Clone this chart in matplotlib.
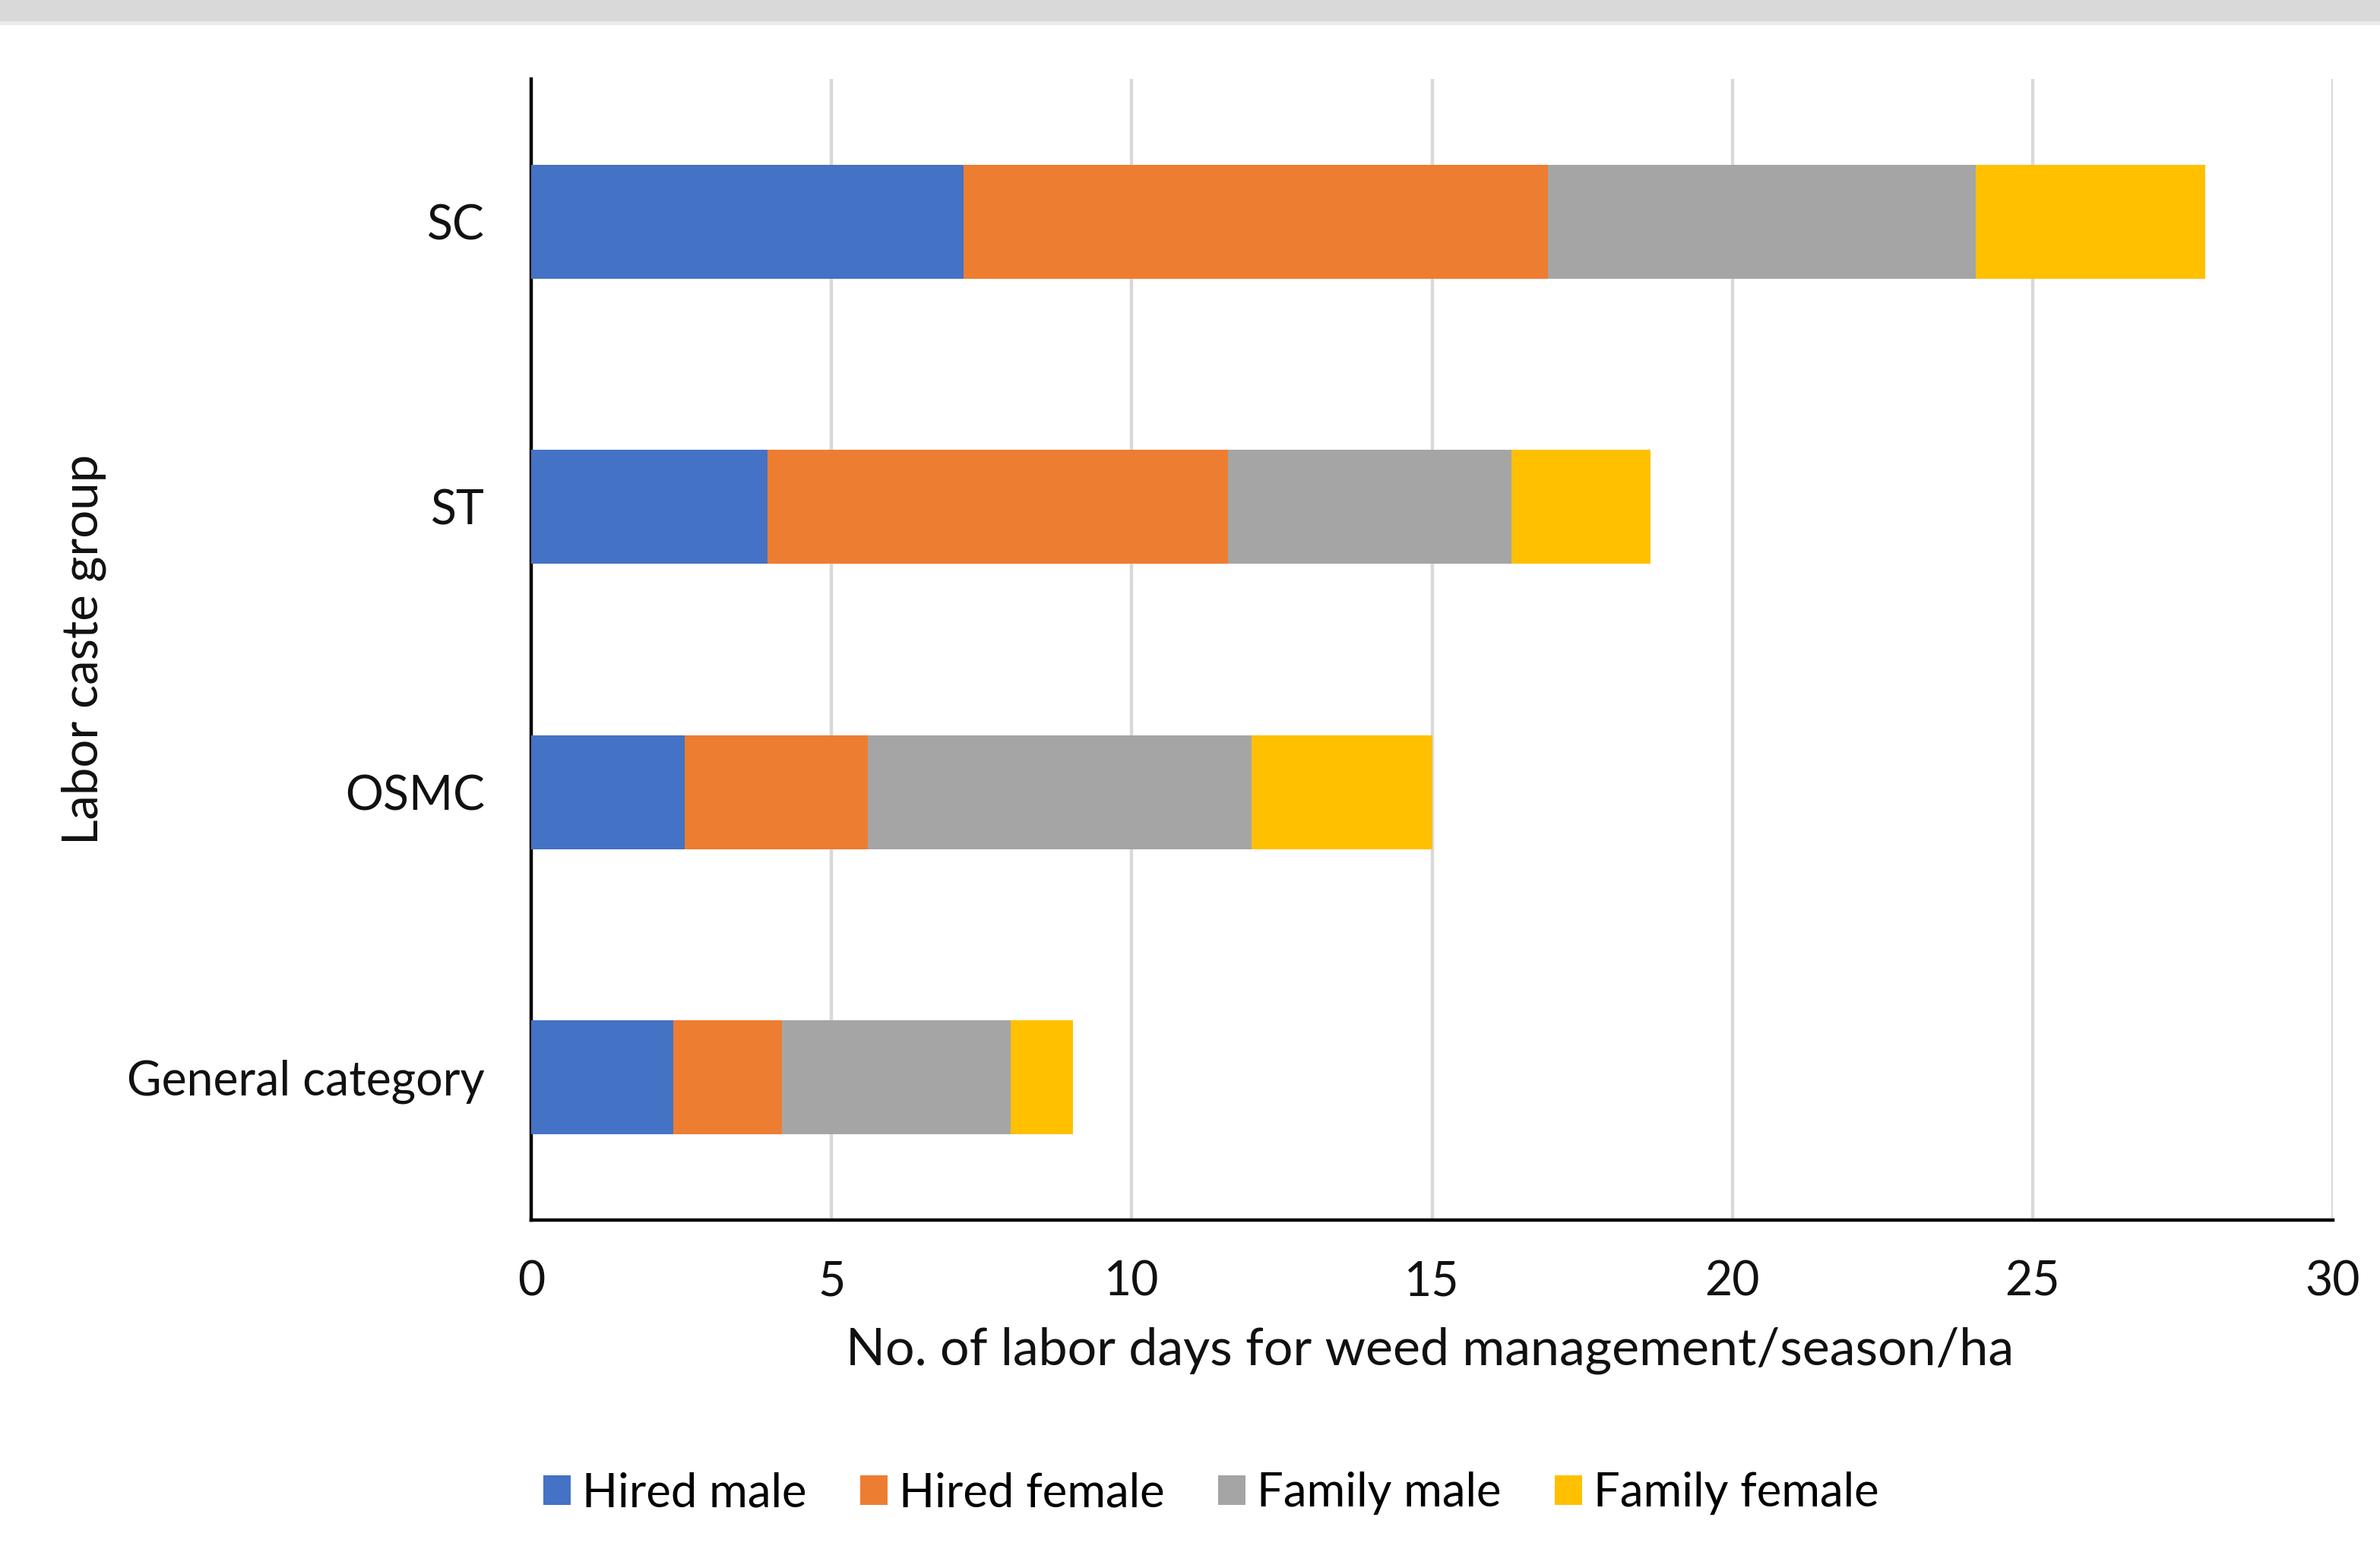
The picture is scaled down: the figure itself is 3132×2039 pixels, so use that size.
import matplotlib
matplotlib.use("Agg")
import matplotlib.pyplot as plt
import matplotlib.patches as mpatches
import numpy as np

plt.rcParams['font.family'] = ['Lato', 'DejaVu Sans']

categories = ["SC", "ST", "OSMC", "General category"]
series_names = ["Hired male", "Hired female", "Family male", "Family female"]
hired_male = [7.2, 3.94, 2.55, 2.37]
hired_female = [9.73, 7.66, 3.06, 1.81]
family_male = [7.12, 4.72, 6.39, 3.80]
family_female = [3.83, 2.32, 3.01, 1.04]
colors = ["#4472C4", "#ED7D31", "#A5A5A5", "#FFC000"]
xticks = [0, 5, 10, 15, 20, 25, 30]

W, H = 3132, 2039
dpi = 200
fig = plt.figure(figsize=(W / dpi, H / dpi), dpi=dpi)
fig.patch.set_facecolor("white")

# top grey band
fig.patches.append(mpatches.Rectangle((0, 1 - 28 / H), 1, 28 / H, transform=fig.transFigure,
                                      facecolor="#d9d9d9", edgecolor="none", zorder=0))
fig.patches.append(mpatches.Rectangle((0, 1 - 33 / H), 1, 5 / H, transform=fig.transFigure,
                                      facecolor="#e9e9e9", edgecolor="none", zorder=0))

left, right = 699 / W, 3070 / W
bottom, top = 1 - 1606 / H, 1 - 104 / H
ax = fig.add_axes([left, bottom, right - left, top - bottom])

y = np.arange(len(categories))
series = [hired_male, hired_female, family_male, family_female]
base = np.zeros(len(categories))
handles = []
for name, vals, c in zip(series_names, series, colors):
    b = ax.barh(y, vals, left=base, height=0.4, color=c, label=name, zorder=3)
    handles.append(b)
    base = base + np.array(vals)

ax.set_ylim(len(categories) - 0.5, -0.5)
ax.set_xlim(0, 30)
ax.set_xticks(xticks)
ax.set_xticklabels([str(t) for t in xticks])
ax.set_yticks(y)
ax.set_yticklabels(categories)
ax.xaxis.grid(True, color="#d9d9d9", linewidth=1.6, zorder=0)
ax.set_axisbelow(True)
for s in ["top", "right"]:
    ax.spines[s].set_visible(False)
for s in ["left", "bottom"]:
    ax.spines[s].set_color("black")
    ax.spines[s].set_linewidth(1.6)
ax.tick_params(axis="both", length=0, labelsize=22.5, labelcolor="#111111")
ax.tick_params(axis="x", pad=19)
ax.tick_params(axis="y", pad=22)

fig.text(941 * 2 / W, 1 - 1778 / H, "No. of labor days for weed management/season/ha",
         ha="center", va="center", fontsize=24.5, color="#111111")
fig.text(110 / W, 1 - 855 / H, "Labor caste group", rotation=90,
         ha="center", va="center", fontsize=23.5, color="#111111")

fig.legend(handles, series_names, loc="center", bbox_to_anchor=(1594 / W, 1 - 1966 / H),
           ncol=4, frameon=False, fontsize=22.2, handlelength=0.57, handleheight=0.6,
           handletextpad=0.25, columnspacing=1.15)

fig.savefig("out.png", dpi=dpi)
